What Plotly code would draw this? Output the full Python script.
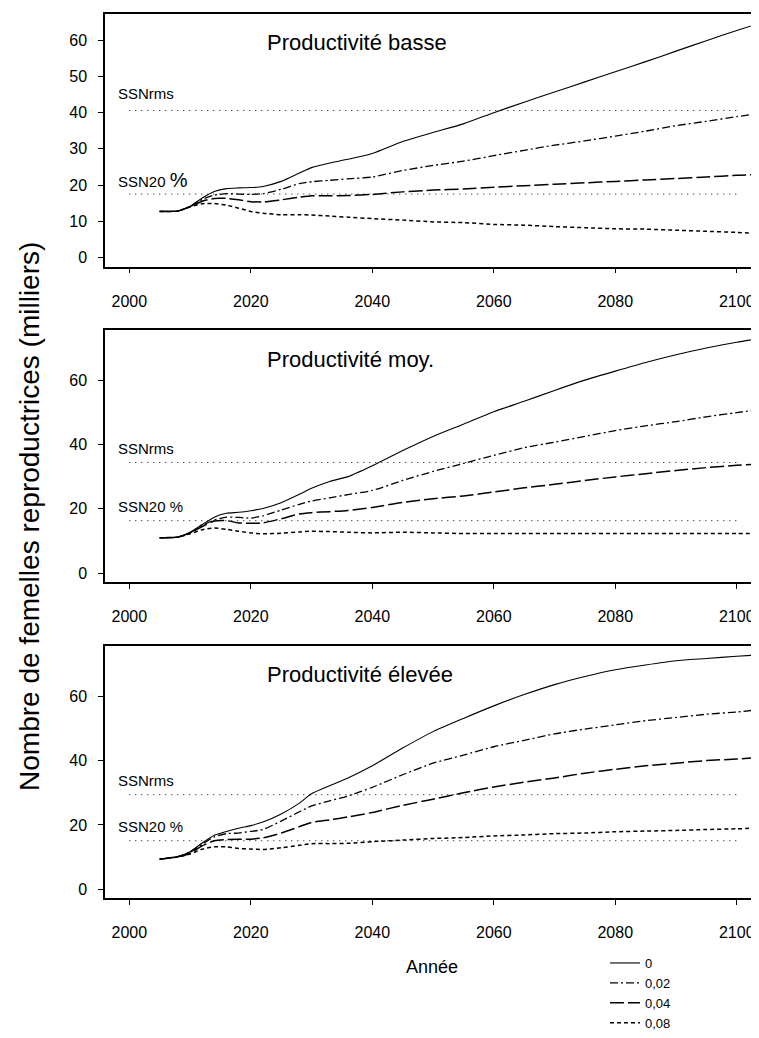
import plotly.graph_objects as go

# page geometry (the html body adds an 8px margin around the figure)
PAGE_W, PAGE_H = 759, 1038
OFF = 8
W, H = PAGE_W - OFF, PAGE_H - OFF

# ---------------- data ----------------
years = [2005, 2008, 2010, 2012, 2014, 2016, 2018, 2020, 2022, 2025, 2028, 2030, 2033, 2036,
         2040, 2045, 2050, 2055, 2060, 2065, 2070, 2075, 2080, 2085, 2090, 2095, 2100, 2104]

rate_labels = ["0", "0,02", "0,04", "0,08"]

# Productivité basse
basse_0 = [12.7, 12.8, 14.1, 16.4, 18.2, 19.0, 19.2, 19.3, 19.6, 21.0, 23.3, 24.8, 26.1, 27.1,
           28.7, 32.0, 34.5, 36.9, 40.0, 42.9, 45.7, 48.5, 51.3, 54.1, 57.0, 59.9, 62.7, 64.8]
basse_002 = [12.7, 12.8, 14.0, 16.0, 17.2, 17.6, 17.5, 17.4, 17.6, 18.8, 20.4, 20.9, 21.3, 21.7,
             22.2, 24.0, 25.4, 26.6, 28.1, 29.6, 31.0, 32.2, 33.5, 34.9, 36.4, 37.6, 38.9, 39.8]
basse_004 = [12.7, 12.8, 14.0, 15.5, 16.3, 16.3, 15.9, 15.4, 15.3, 15.9, 16.6, 17.0, 17.0, 17.1,
             17.4, 18.1, 18.6, 18.9, 19.4, 19.8, 20.2, 20.6, 21.0, 21.4, 21.8, 22.2, 22.7, 22.9]
basse_008 = [12.7, 12.8, 14.0, 14.8, 14.9, 14.4, 13.6, 12.7, 12.2, 11.8, 11.8, 11.7, 11.4, 11.1,
             10.7, 10.3, 9.8, 9.6, 9.1, 8.9, 8.5, 8.2, 7.9, 7.8, 7.5, 7.2, 6.9, 6.5]

# Productivité moy.
moy_0 = [11.0, 11.2, 12.7, 15.1, 17.4, 18.6, 18.9, 19.4, 20.1, 21.9, 24.5, 26.4, 28.5, 30.0,
         33.4, 38.1, 42.5, 46.3, 50.2, 53.4, 56.8, 60.0, 62.8, 65.5, 67.9, 70.0, 71.8, 73.0]
moy_002 = [11.0, 11.2, 12.5, 14.8, 16.5, 17.4, 17.3, 17.1, 17.8, 19.6, 21.4, 22.4, 23.4, 24.4,
           25.7, 28.8, 31.6, 34.1, 36.6, 39.0, 40.7, 42.5, 44.3, 45.8, 47.1, 48.6, 49.9, 51.0]
moy_004 = [11.0, 11.2, 12.5, 14.5, 16.2, 16.3, 15.6, 15.5, 15.6, 16.9, 18.4, 18.8, 19.1, 19.5,
           20.4, 22.0, 23.1, 24.0, 25.2, 26.5, 27.6, 28.8, 29.9, 30.9, 31.9, 32.8, 33.5, 33.9]
moy_008 = [11.0, 11.2, 12.2, 13.5, 14.0, 13.6, 13.0, 12.5, 12.2, 12.4, 12.8, 13.0, 12.9, 12.7,
           12.5, 12.7, 12.5, 12.3, 12.3, 12.3, 12.3, 12.3, 12.3, 12.3, 12.3, 12.3, 12.3, 12.3]

# Productivité élevée
elevee_0 = [9.4, 10.2, 11.7, 14.4, 16.8, 18.0, 19.0, 19.8, 20.9, 23.4, 26.8, 29.7, 32.2, 34.6,
            38.4, 43.9, 49.0, 53.1, 57.0, 60.5, 63.6, 66.1, 68.2, 69.7, 71.0, 71.7, 72.4, 72.9]
elevee_002 = [9.4, 10.2, 11.5, 14.0, 16.3, 17.3, 17.5, 18.0, 18.6, 21.2, 24.1, 25.9, 27.5, 29.0,
              31.7, 35.6, 39.2, 41.7, 44.3, 46.3, 48.3, 49.8, 51.1, 52.4, 53.4, 54.4, 55.1, 55.9]
elevee_004 = [9.4, 10.1, 11.2, 13.5, 15.1, 15.5, 15.6, 15.6, 16.0, 17.5, 19.5, 20.8, 21.6, 22.5,
              23.9, 26.1, 28.0, 30.0, 31.8, 33.3, 34.6, 36.1, 37.3, 38.4, 39.2, 40.0, 40.5, 41.0]
elevee_008 = [9.4, 10.1, 11.0, 12.5, 13.2, 13.2, 12.7, 12.5, 12.4, 12.9, 13.7, 14.2, 14.2, 14.3,
              14.8, 15.3, 15.8, 16.1, 16.6, 16.9, 17.3, 17.5, 17.9, 18.1, 18.3, 18.6, 18.8, 19.1]

ref_years = [2000, 2100]
ssnrms_levels = [40.6, 34.4, 29.4]
ssn20_levels = [17.5, 16.3, 15.1]

panel_titles = ["Productivité basse", "Productivité moy.", "Productivité élevée"]
x_ticks = [2000, 2020, 2040, 2060, 2080, 2100]

# ---------------- styling ----------------
FONT = "Liberation Sans, Arial, Helvetica, sans-serif"
dashes = ["solid", "8px,3px,2px,3px", "14px,4px", "4px,3px"]
widths = [1.1, 1.3, 1.5, 1.5]

# page-pixel geometry of the three panels (top, bottom, y range, dtick)
panels = [
    (14.0, 271.7, [-2.55, 67.3], 10),
    (336.0, 593.3, [-2.75, 75.7], 20),
    (658.3, 916.0, [-2.8, 75.7], 20),
]
x_left_px = 105.0
x_range = [1996.0, 2103.66]


def py(p):
    return 1 - (p - OFF) / H


def px(p):
    return (p - OFF) / W


series = [
    [basse_0, basse_002, basse_004, basse_008],
    [moy_0, moy_002, moy_004, moy_008],
    [elevee_0, elevee_002, elevee_004, elevee_008],
]

fig = go.Figure()
annotations = []

for i, (top, bot, yr, dt) in enumerate(panels):
    xa = "x" if i == 0 else f"x{i+1}"
    ya = "y" if i == 0 else f"y{i+1}"
    for lvl in (ssnrms_levels[i], ssn20_levels[i]):
        fig.add_trace(go.Scatter(x=ref_years, y=[lvl, lvl], mode="lines",
                                 line=dict(color="black", width=1, dash="1px,5px"),
                                 xaxis=xa, yaxis=ya, showlegend=False, hoverinfo="skip"))
    for k, vals in enumerate(series[i]):
        fig.add_trace(go.Scatter(x=years, y=vals, mode="lines", name=rate_labels[k],
                                 line=dict(color="black", width=widths[k], dash=dashes[k],
                                           shape="spline", smoothing=0.6),
                                 xaxis=xa, yaxis=ya, showlegend=(i == 0)))
    axis_common = dict(showgrid=False, zeroline=False, showline=True, linecolor="black",
                       linewidth=1.5, ticks="outside", ticklen=5, tickwidth=1, tickcolor="black",
                       tickfont=dict(family=FONT, size=16, color="black"))
    fig.layout[("xaxis" if i == 0 else f"xaxis{i+1}")] = dict(
        axis_common, domain=[px(x_left_px), 1], range=x_range, tickvals=x_ticks,
        anchor=ya, mirror=True, ticklabelstandoff=14)
    fig.layout[("yaxis" if i == 0 else f"yaxis{i+1}")] = dict(
        axis_common, domain=[py(bot), py(top)], range=yr, dtick=dt, tick0=0,
        anchor=xa, ticklabelstandoff=8)

    title_y = [43.5, 366.5, 688.0][i]
    annotations.append(dict(text=panel_titles[i], x=px(265), y=py(title_y), xref="paper",
                            yref="paper", xanchor="left", yanchor="middle", showarrow=False,
                            font=dict(family=FONT, size=22, color="black")))
    rms_y = [95.0, 457.7, 795.7][i]
    s20_y = [183.5, 516.7, 842.7][i]
    annotations.append(dict(text="SSNrms", x=px(116), y=py(rms_y), xref="paper", yref="paper",
                            xanchor="left", yanchor="middle", showarrow=False,
                            font=dict(family=FONT, size=15, color="black")))
    s20_text = "SSN20 <span style='font-size:20px'>%</span>" if i == 0 else "SSN20 %"
    annotations.append(dict(text=s20_text, x=px(116), y=py(s20_y), xref="paper", yref="paper",
                            xanchor="left", yanchor="middle", showarrow=False,
                            font=dict(family=FONT, size=15, color="black")))

annotations.append(dict(text="Nombre de femelles reproductrices (milliers)", x=px(30), y=py(527),
                        xref="paper", yref="paper", xanchor="center", yanchor="middle",
                        textangle=-90, showarrow=False,
                        font=dict(family=FONT, size=28, color="black")))
annotations.append(dict(text="Année", x=px(432), y=py(986), xref="paper", yref="paper",
                        xanchor="center", yanchor="middle", showarrow=False,
                        font=dict(family=FONT, size=18, color="black")))

fig.update_layout(
    width=W, height=H,
    margin=dict(l=0, r=0, t=0, b=0),
    paper_bgcolor="white", plot_bgcolor="white",
    annotations=annotations,
    showlegend=True,
    legend=dict(x=px(605), y=py(967), xanchor="left", yanchor="top",
                bgcolor="rgba(0,0,0,0)", font=dict(family=FONT, size=13, color="black"),
                tracegroupgap=0),
)

fig.write_html("out.html")
